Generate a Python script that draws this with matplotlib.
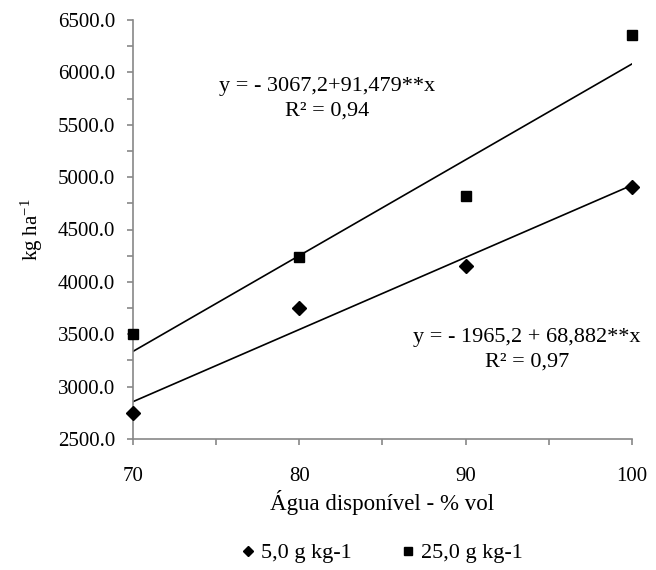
import matplotlib
matplotlib.use("Agg")
import matplotlib.pyplot as plt
import numpy as np
from matplotlib.ticker import MultipleLocator, FormatStrFormatter

x = [70, 80, 90, 100]
y_5 = [2750, 3750, 4150, 4910]
y_25 = [3500, 4240, 4820, 6360]
fit_5 = (-1965.2, 68.882)
fit_25 = (-3067.2, 91.479)
labels = ["5,0 g kg-1", "25,0 g kg-1"]
eq_5 = "y = - 1965,2 + 68,882**x\nR² = 0,97"
eq_25 = "y = - 3067,2+91,479**x\nR² = 0,94"

plt.rcParams['font.family'] = ['Liberation Serif', 'DejaVu Serif']
plt.rcParams['mathtext.fontset'] = 'custom'
plt.rcParams['mathtext.rm'] = 'Liberation Serif'
plt.rcParams['mathtext.it'] = 'Liberation Serif:italic'
fig = plt.figure(figsize=(6.56, 5.70), dpi=100)
ax = fig.add_axes([133/656, 1-439/570, 499/656, 419/570])

xs = np.array([70, 100])
ax.plot(xs, fit_5[0] + fit_5[1] * xs, color='black', lw=1.2, zorder=2)
ax.plot(xs, fit_25[0] + fit_25[1] * xs, color='black', lw=1.2, zorder=2)
ax.plot(x, y_5, linestyle='none', marker='D', color='black', markersize=7, label=labels[0], clip_on=False, zorder=3)
ax.plot(x, y_25, linestyle='none', marker='s', color='black', markersize=7.5, label=labels[1], clip_on=False, zorder=3)

ax.set_xlim(70, 100)
ax.set_ylim(2500, 6500)
ax.xaxis.set_major_locator(MultipleLocator(10))
ax.xaxis.set_minor_locator(MultipleLocator(5))
ax.yaxis.set_major_locator(MultipleLocator(500))
ax.yaxis.set_minor_locator(MultipleLocator(250))
ax.yaxis.set_major_formatter(FormatStrFormatter('%.1f'))
for s in ['top', 'right']:
    ax.spines[s].set_visible(False)
for s in ['left', 'bottom']:
    ax.spines[s].set_color('#888888')
    ax.spines[s].set_linewidth(1.2)
ax.tick_params(which='both', direction='out', color='#888888', width=1.2, length=4.3, labelsize=15)
ax.tick_params(axis='x', which='major', pad=16)
ax.tick_params(axis='y', which='major', pad=8.6)

ax.set_xlabel('Água disponível - % vol', fontsize=16.5, labelpad=3)
ax.set_ylabel(r'$\mathrm{kg\ ha}^{\mathrm{-1}}$', fontsize=15, labelpad=9)

ax.text(0.389, 0.811, eq_25, transform=ax.transAxes, fontsize=16, ha='center', va='center',
        multialignment='center', linespacing=1.4)
ax.text(0.79, 0.213, eq_5, transform=ax.transAxes, fontsize=16, ha='center', va='center',
        multialignment='center', linespacing=1.4)

fig.legend(loc='center', bbox_to_anchor=(382/656, 1-553/570), ncol=2, frameon=False, fontsize=16,
           handlelength=0.6, handletextpad=0.3, columnspacing=2.2, markerscale=0.75)

fig.savefig('out.png', dpi=100)
